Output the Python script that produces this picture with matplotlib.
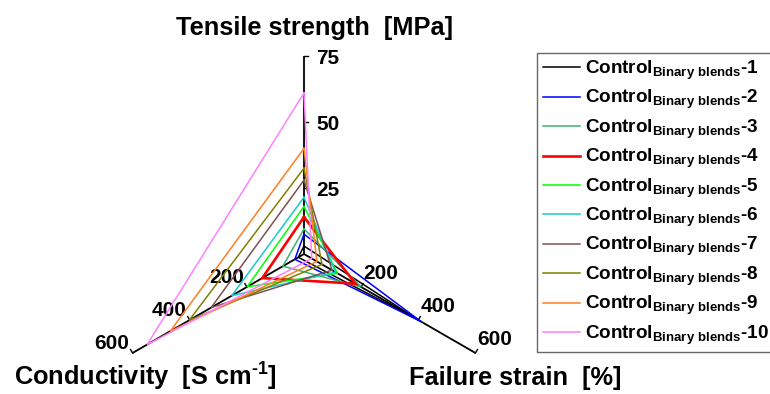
import numpy as np
import matplotlib
matplotlib.use('Agg')
import matplotlib.pyplot as plt
from matplotlib.lines import Line2D

plt.rcParams['font.family'] = ['Liberation Sans', 'DejaVu Sans']
plt.rcParams['font.weight'] = 'bold'
plt.rcParams['mathtext.fontset'] = 'custom'
plt.rcParams['mathtext.rm'] = 'Liberation Sans:bold'
plt.rcParams['mathtext.bf'] = 'Liberation Sans:bold'
plt.rcParams['mathtext.it'] = 'Liberation Sans:bold'
plt.rcParams['mathtext.sf'] = 'Liberation Sans:bold'
plt.rcParams['mathtext.default'] = 'rm'

# ---------------- data ----------------
samples = [f'Control$_{{Binary\\ blends}}$-{i}' for i in range(1, 11)]
tensile = [3, 7.5, 9.5, 14, 18, 21.5, 28, 32.5, 40, 61]            # MPa
strain = [400, 410, 200, 180, 117, 110, 98, 63, 45, 27]            # %
conductivity = [20, 32, 74, 146, 199, 253, 325, 402, 468, 549]     # S/cm

axis_names = ['Tensile strength  [MPa]', 'Failure strain  [%]',
              'Conductivity  [S cm$^{\u2010 1}$]']
axis_max = [75, 600, 600]
axis_ticks = [[25, 50, 75], [200, 400, 600], [200, 400, 600]]

colors = ['#000000', '#0000FF', '#3CB371', '#FF0000', '#00FF00',
          '#1BCBCB', '#7F5050', '#808000', '#FF7F1E', '#FF80FF']
widths = [1.1, 1.1, 1.1, 1.9, 1.1, 1.1, 1.1, 1.1, 1.1, 1.1]

# ---------------- layout ----------------
W, H = 770, 394
R = 198.0              # axis length in px
cx, cy = 304, 254      # centre in px (from top-left)
angles = np.deg2rad([90, -30, 210])

fig = plt.figure(figsize=(W / 100, H / 100), dpi=100)
ax = fig.add_axes([0, 0, 1, 1])
ax.set_xlim(-cx / R, (W - cx) / R)
ax.set_ylim(-(H - cy) / R, cy / R)
ax.axis('off')


def pt(k, v):
    r = v / axis_max[k]
    return r * np.cos(angles[k]), r * np.sin(angles[k])


# axes
tick_len = 4 / R
perp = [(1, 0), (0.5, 0.866), (-0.5, 0.866)]
for k in range(3):
    x1, y1 = pt(k, axis_max[k])
    ax.plot([0, x1], [0, y1], color='black', lw=1.3, zorder=1,
            solid_capstyle='butt')
    for t in axis_ticks[k]:
        x, y = pt(k, t)
        ax.plot([x, x + perp[k][0] * tick_len], [y, y + perp[k][1] * tick_len],
                color='black', lw=1.0, zorder=1)
        if k == 0:
            ax.annotate(str(t), (x, y), xytext=(12 * 0.72, -7.5 * 0.72),
                        textcoords='offset points', ha='left', va='baseline',
                        fontsize=15, fontweight='bold')
        elif k == 1:
            ax.annotate(str(t), (x, y), xytext=(2 * 0.72, 8 * 0.72),
                        textcoords='offset points', ha='left', va='baseline',
                        fontsize=15, fontweight='bold')
        else:
            ax.annotate(str(t), (x, y), xytext=(-3 * 0.72, 4 * 0.72),
                        textcoords='offset points', ha='right', va='baseline',
                        fontsize=15, fontweight='bold')

# series
for i in range(len(samples)):
    vals = [tensile[i], strain[i], conductivity[i]]
    pts = [pt(k, vals[k]) for k in range(3)]
    xs = [p[0] for p in pts] + [pts[0][0]]
    ys = [p[1] for p in pts] + [pts[0][1]]
    ax.plot(xs, ys, color=colors[i], lw=widths[i], zorder=2 + i,
            solid_joinstyle='miter')

# axis titles
fig.text(315 / W, 1 - 35 / H, axis_names[0], ha='center', va='baseline',
         fontsize=18.3, fontweight='bold')
fig.text(515 / W, 1 - 385 / H, axis_names[1], ha='center', va='baseline',
         fontsize=18.3, fontweight='bold')
fig.text(145 / W, 1 - 386 / H, axis_names[2], ha='center', va='baseline',
         fontsize=18.3, fontweight='bold')

# legend
handles = [Line2D([0], [0], color=colors[i], lw=widths[i]) for i in range(len(samples))]
leg = fig.legend(handles, samples, loc='upper left',
                 bbox_to_anchor=(537 / W, 1 - 53 / H), fontsize=13.6,
                 frameon=True, fancybox=False, edgecolor='#404040',
                 borderaxespad=0, handlelength=2.0, handletextpad=0.25,
                 labelspacing=0.33, borderpad=0.3)
leg.get_frame().set_linewidth(1.0)

fig.savefig('out.png', dpi=100)
